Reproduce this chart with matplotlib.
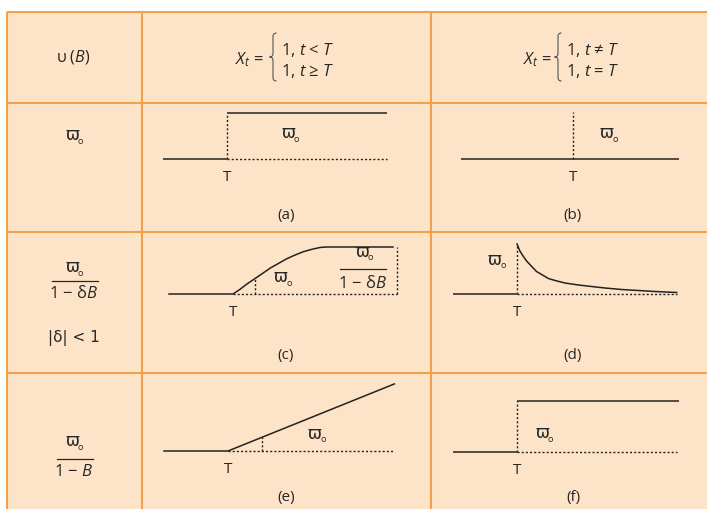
import numpy as np
import matplotlib
matplotlib.use('Agg')
import matplotlib.pyplot as plt
from matplotlib.path import Path
from matplotlib.patches import PathPatch, Rectangle

plt.rcParams['font.family'] = ['Open Sans', 'DejaVu Sans']
plt.rcParams['mathtext.fontset'] = 'custom'
plt.rcParams['mathtext.rm'] = 'Open Sans'
plt.rcParams['mathtext.it'] = 'Open Sans:italic'
plt.rcParams['mathtext.fallback'] = 'stixsans'

# ---- data (t in units after T, y in units of w0) ----
# (a) step
a_pre_t = [-2.0, 0.0]
a_post_t = [0.0, 5.0]
a_level = 1.0
# (b) pulse
b_line_t = [-3.5, 3.3]
b_pulse = 1.0
# (c) gradual rise to w0/(1-dB)
c_t = [-2.0, 0.0, 0.22, 0.43, 0.69, 0.95, 1.16, 1.42, 1.68, 1.94, 2.20, 2.46, 2.72, 2.93, 5.0]
c_y = [0.0, 0.0, 0.10, 0.21, 0.33, 0.45, 0.55, 0.65, 0.75, 0.83, 0.90, 0.95, 0.99, 1.0, 1.0]
c_first = (0.69, 0.33)
c_end_t = 5.12
# (d) decaying pulse
d_pre_t = [-2.0, 0.0]
d_t = [0.0, 0.09, 0.20, 0.30, 0.46, 0.61, 0.77, 0.98, 1.19, 1.5, 1.92, 2.33, 2.75,
       3.27, 3.79, 4.31, 4.99]
d_y = [1.0, 0.86, 0.75, 0.66, 0.55, 0.45, 0.39, 0.31, 0.27, 0.22, 0.18, 0.15, 0.12,
       0.09, 0.07, 0.05, 0.03]
# (e) ramp
e_t = [-2.0, 0.0, 5.2]
e_y = [0.0, 0.0, 5.2]
e_mark = (1.05, 1.05)
# (f) step
f_pre_t = [-2.0, 0.0]
f_post_t = [0.0, 5.06]
f_level = 1.0

panel_labels = ['(a)', '(b)', '(c)', '(d)', '(e)', '(f)']

W, H = 707, 509
BG = '#fde4c8'
EDGE = '#f4a04a'
INK = '#262626'
col_x = [7, 142, 431, 712]
row_y = [12, 102.5, 232, 373, 515]

fig = plt.figure(figsize=(W / 100, H / 100), dpi=100)
bg = fig.add_axes([0, 0, 1, 1])
bg.set_xlim(0, W)
bg.set_ylim(H, 0)
bg.axis('off')

# table
bg.add_patch(Rectangle((col_x[0], row_y[0]), col_x[-1] - col_x[0], row_y[-1] - row_y[0],
                       facecolor=BG, edgecolor='none'))
for y in row_y[:-1]:
    bg.plot([col_x[0], col_x[-1]], [y, y], color=EDGE, lw=1.5, solid_capstyle='butt')
for x in col_x[:-1]:
    bg.plot([x, x], [row_y[0], row_y[-1]], color=EDGE, lw=1.5, solid_capstyle='butt')


def txt(x, y, s, size=10.5, **kw):
    bg.text(x, y, s, fontsize=size, color=INK, ha=kw.pop('ha', 'center'),
            va=kw.pop('va', 'center'), **kw)


def varpi(x, y, size=12):
    # ϖ with small subscript o
    bg.text(x, y, 'ϖ', fontsize=size, color=INK, ha='center', va='center',
            family=['DejaVu Sans'])
    bg.text(x + 8.5, y + 6, 'o', fontsize=size * 0.55, color=INK, ha='center', va='center')


def frac_line(x0, x1, y):
    bg.plot([x0, x1], [y, y], color=INK, lw=0.9)


def brace(x, y0, y1, h=3.5):
    ym = (y0 + y1) / 2
    verts = [(x + h, y0), (x, y0), (x, y0 + h), (x, ym - h), (x, ym), (x - h, ym),
             (x, ym), (x, ym + h), (x, y1 - h), (x, y1), (x + h, y1)]
    codes = [Path.MOVETO, Path.CURVE3, Path.CURVE3, Path.LINETO, Path.CURVE3, Path.CURVE3,
             Path.CURVE3, Path.CURVE3, Path.LINETO, Path.CURVE3, Path.CURVE3]
    bg.add_patch(PathPatch(Path(verts, codes), facecolor='none', edgecolor='#555555', lw=0.8))


# header row
txt(73, 57, 'υ ($B$)', size=11.5)
txt(264, 60, '$X_t$ =', size=12, ha='right')
brace(273, 33, 81)
txt(281, 50, '1, $t$ < $T$', size=12, ha='left')
txt(281, 71, '1, $t$ ≥ $T$', size=12, ha='left')
txt(552, 60, '$X_t$ =', size=12, ha='right')
brace(558, 33, 81)
txt(566, 50, '1, $t$ ≠ $T$', size=12, ha='left')
txt(566, 71, '1, $t$ = $T$', size=12, ha='left')

# left column
varpi(72, 135)
varpi(72, 267)
frac_line(52, 98, 281)
txt(74, 293, '1 − δ$B$', size=12)
txt(74, 338, '|δ| < 1', size=11, family=['DejaVu Sans'])
varpi(72, 441)
frac_line(57, 93, 459)
txt(74, 472, '1 − $B$', size=12)

# in-panel labels
varpi(288, 133)
varpi(607, 133)
varpi(281, 277)
varpi(362, 252)
frac_line(340, 386, 269)
txt(363, 283, '1 − δ$B$', size=12)
varpi(495, 260)
varpi(315, 434)
varpi(542, 433)

for (x, y), lab in zip([(286, 215), (573, 215), (286, 355), (573, 355), (286, 497), (573, 497)],
                       panel_labels):
    txt(x, y, lab, size=11)


def panel(cell, xT, yB, sx, sy):
    left, top, right, bottom = cell
    ax = fig.add_axes([left / W, 1 - bottom / H, (right - left) / W, (bottom - top) / H])
    ax.set_xlim((left - xT) / sx, (right - xT) / sx)
    ax.set_ylim((yB - bottom) / sy, (yB - top) / sy)
    ax.axis('off')
    ax.patch.set_alpha(0)
    ax.text(0, -18.5 / sy, 'T', fontsize=11, color=INK, ha='center', va='center')
    return ax


solid = dict(color='#222222', lw=1.1, solid_capstyle='butt')
dot = dict(color='#222222', lw=1.0, linestyle=(0, (1.5, 1.5)))
curve = dict(color='#222222', lw=1.1, solid_joinstyle='round')

# (a)
ax = panel((142, 102.5, 431, 232), 227, 159, 32, 46)
ax.plot(a_pre_t, [0, 0], **solid)
ax.plot([0, 0], [0, a_level], **dot)
ax.plot(a_post_t, [a_level, a_level], **solid)
ax.plot(a_post_t, [0, 0], **dot)

# (b)
ax = panel((431, 102.5, 707, 232), 573, 159, 32, 47)
ax.plot(b_line_t, [0, 0], **solid)
ax.plot([0, 0], [0, b_pulse], **dot)

# (c)
ax = panel((142, 232, 431, 373), 233, 294, 32, 47)
ax.plot([0, c_end_t], [0, 0], **dot)
ax.plot([c_first[0], c_first[0]], [0, c_first[1]], **dot)
ax.plot([c_end_t, c_end_t], [0, c_y[-1]], **dot)
ax.plot(c_t, c_y, **curve)

# (d)
ax = panel((431, 232, 707, 373), 517, 294, 32, 50)
ax.plot(d_pre_t, [0, 0], **solid)
ax.plot([0, 0], [0, d_y[0]], **dot)
ax.plot([0, d_t[-1]], [0, 0], **dot)
ax.plot(d_t, d_y, **curve)

# (e)
ax = panel((142, 373, 431, 509), 228, 451, 32, 12.9)
ax.plot([0, e_t[-1]], [0, 0], **dot)
ax.plot([e_mark[0], e_mark[0]], [0, e_mark[1]], **dot)
ax.plot(e_t, e_y, **curve)

# (f)
ax = panel((431, 373, 707, 509), 517, 452, 32, 51)
ax.plot(f_pre_t, [0, 0], **solid)
ax.plot([0, 0], [0, f_level], **dot)
ax.plot(f_post_t, [f_level, f_level], **solid)
ax.plot([0, 5.0], [0, 0], **dot)

fig.savefig('out.png', dpi=100, facecolor='white')
